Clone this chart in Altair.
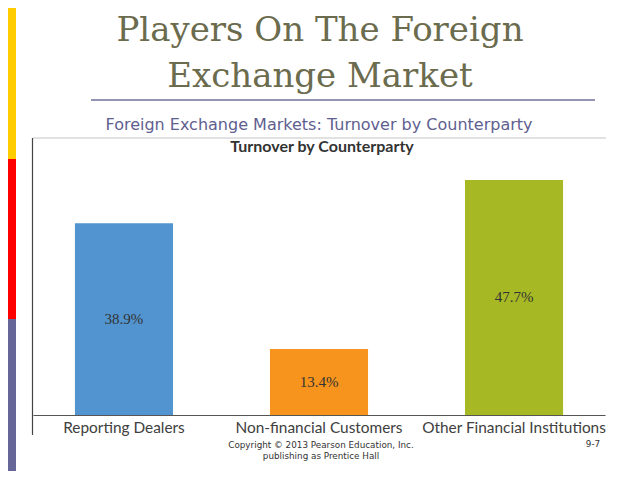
import altair as alt
import pandas as pd

# ---- data ----
categories = ["Reporting Dealers", "Non-financial Customers", "Other Financial Institutions"]
values = [38.9, 13.4, 47.7]
bar_colors = ["#5294CF", "#F7941D", "#A6B925"]

title_lines = ["Players On The Foreign", "Exchange Market"]
subtitle = "Foreign Exchange Markets: Turnover by Counterparty"
chart_title = "Turnover by Counterparty"
copyright_lines = ["Copyright \u00a9 2013 Pearson Education, Inc.", "publishing as Prentice Hall"]
slide_no = "9-7"

df = pd.DataFrame({"cat": categories, "val": values})
one = pd.DataFrame({"k": [0]})

W, H = 572, 277
yscale = alt.Scale(domain=[0, 56.2])
xscale = alt.Scale(domain=categories, paddingInner=0.497, paddingOuter=0.215)

base = alt.Chart(df)

bars = base.mark_bar().encode(
    x=alt.X("cat:N", sort=categories, scale=xscale, title=None,
            axis=alt.Axis(labelAngle=0, ticks=False, labelFont="Lato", labelFontSize=15.4,
                          labelColor="#404040", labelPadding=5, domainColor="#555555",
                          domainWidth=1.2, labelLimit=300)),
    y=alt.Y("val:Q", scale=yscale, axis=None),
    color=alt.Color("cat:N", scale=alt.Scale(domain=categories, range=bar_colors), legend=None),
)

labels = base.transform_calculate(
    mid="datum.val / 2", lbl="format(datum.val, '.1f') + '%'"
).mark_text(font="Liberation Serif", fontSize=15, color="#333333", baseline="middle").encode(
    x=alt.X("cat:N", sort=categories, scale=xscale),
    y=alt.Y("mid:Q", scale=yscale),
    text="lbl:N",
)

d = alt.Chart(one)

def rect(x, x2, y, y2, color):
    return d.mark_rect(color=color).encode(
        x=alt.value(x), x2=alt.value(x2), y=alt.value(y), y2=alt.value(y2))

def rule(x, x2, y, y2, color, w):
    return d.mark_rule(color=color, strokeWidth=w).encode(
        x=alt.value(x), x2=alt.value(x2), y=alt.value(y), y2=alt.value(y2))

def txt(s, x, y, font, size, color, weight="normal", baseline="middle", align="center"):
    return d.mark_text(font=font, fontSize=size, color=color, fontWeight=weight,
                       baseline=baseline, align=align).encode(
        x=alt.value(x), y=alt.value(y), text=alt.value(s))

layers = [
    rect(-25, -17, -130, 21, "#FFCC00"),
    rect(-25, -17, 21, 181, "#FF0000"),
    rect(-25, -17, 181, 340, "#666699"),
    txt(title_lines[0], 287, -97, "DejaVu Serif", 34, "#6B6B4E", baseline="alphabetic"),
    txt(title_lines[1], 287, -51, "DejaVu Serif", 34, "#6B6B4E", baseline="alphabetic"),
    rule(58, 562, -38, -38, "#9494B4", 2),
    txt(subtitle, 286, -13, "DejaVu Sans", 16, "#60608F"),
    rule(0, 573, 0, 0, "#C4C4C4", 1),
    rule(-0.5, -0.5, 0, 297, "#444444", 1.2),
    txt(chart_title, 289, 9, "Lato", 16, "#333333", weight="bold"),
    txt(copyright_lines[0], 288, 307, "DejaVu Sans", 8.8, "#333333"),
    txt(copyright_lines[1], 288, 318, "DejaVu Sans", 8.8, "#333333"),
    txt(slide_no, 560, 306, "DejaVu Sans", 8.8, "#333333"),
    bars,
    labels,
]

chart = alt.layer(*layers).properties(
    width=W, height=H,
    autosize=alt.AutoSizeParams(type="none"),
    padding={"left": 25, "top": 130, "right": 25, "bottom": 56},
).configure_view(stroke=None)

chart.save("out.html", embed_options={"renderer": "svg", "actions": False})
